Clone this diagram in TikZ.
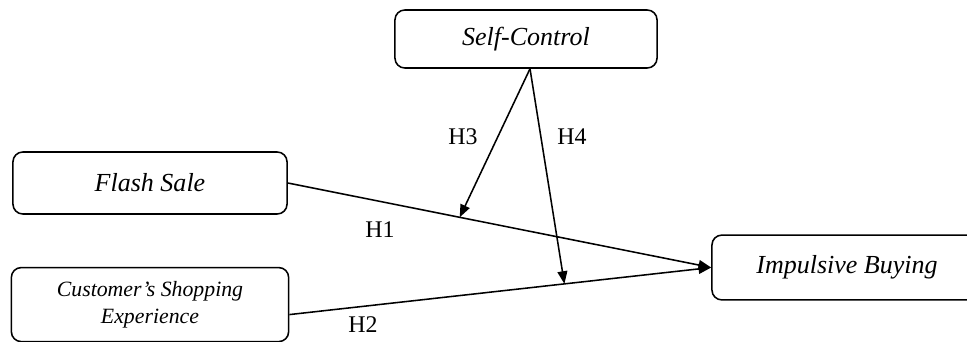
\documentclass[tikz,border=0pt]{standalone}
\usepackage{fontspec}
\setmainfont{Liberation Serif}
\usepackage{tikz}
\usetikzlibrary{positioning,arrows.meta,calc}

\begin{document}
\begin{tikzpicture}[
  x=0.025cm, y=-0.025cm,
  >=Triangle,
  var/.style={draw,line width=1.1pt,rounded corners=7pt,fill=white,
              font=\fontsize{18.5}{20}\selectfont\itshape,
              minimum width=6.85cm,minimum height=1.55cm,align=center},
  hyp/.style={font=\fontsize{17}{19}\selectfont},
  arr/.style={-{Triangle[length=9pt,width=7pt]},line width=1.1pt},
]
  \useasboundingbox (0,0) rectangle (967,342);

  \node[var,minimum width=6.55cm,minimum height=1.45cm] (sc) at (526,39) {Self-Control};
  \node[var] (fs) at (150,183) {Flash Sale};
  \node[var,minimum width=6.93cm,minimum height=1.85cm,
        font=\fontsize{15.5}{19}\selectfont\itshape,below=1.3cm of fs] (cse)
        {Customer's Shopping\\Experience};
  \node[var,minimum width=6.75cm,minimum height=1.62cm] (ib) at (847,267.5) {Impulsive Buying};

  % moderation points on the two paths
  \coordinate (m1) at ($(fs.east)!0.406!(ib.west)$);
  \coordinate (m2) at ($([yshift=-10*0.025cm]cse.east)!0.652!(ib.west)$);

  \draw[arr] (fs.east) -- (ib.west);
  \draw[arr] ([yshift=-10*0.025cm]cse.east) -- (ib.west);
  \draw[arr] ([xshift=4*0.025cm]sc.south) -- (m1);
  \draw[arr] ([xshift=4*0.025cm]sc.south) -- (m2);

  \node[hyp] (h1) at (380,230) {H1};
  \node[hyp] (h2) at (363,325) {H2};
  \node[hyp] (h3) at (463,137) {H3};
  \node[hyp] (h4) at (572,137) {H4};
\end{tikzpicture}
\end{document}
